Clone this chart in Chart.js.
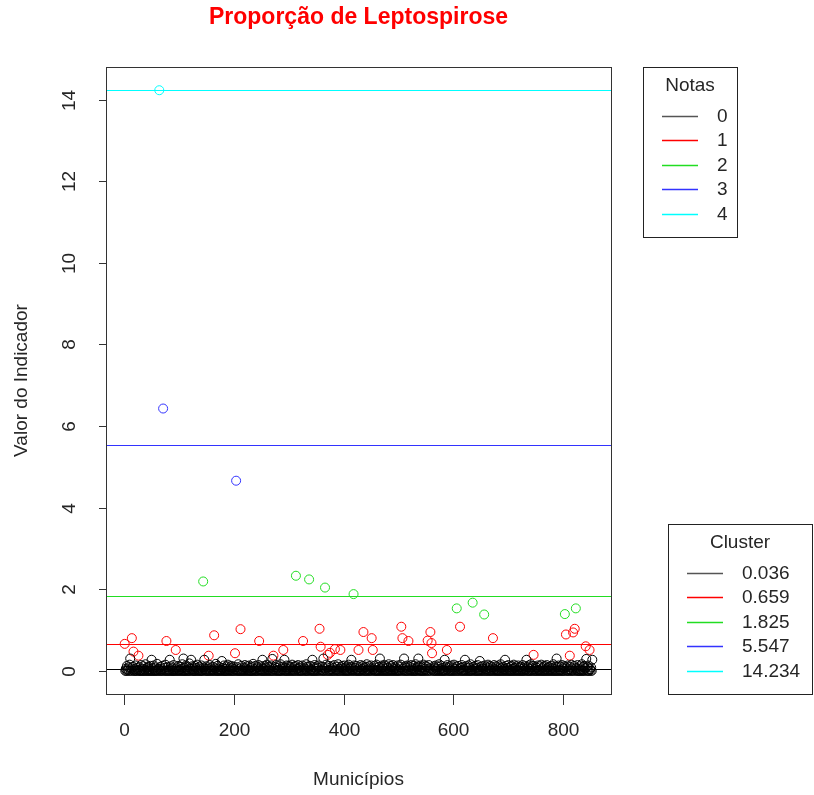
<!DOCTYPE html>
<html>
<head>
<meta charset="utf-8">
<script src="https://cdn.jsdelivr.net/npm/chart.js@4"></script>
<style>
  html, body { margin: 0; padding: 0; background: #fff; }
</style>
</head>
<body>
<canvas id="scatter" width="814" height="795"></canvas>
<script>
// valor do indicador por municipio (indice 1..853)
const indicador = [
  0.66, 0, 0.05, 0, 0.12, 0, 0.03, 0.08, 0, 0.15, 0.30, 0, 0.06, 0.80, 0, 0.1, 0.47, 0, 0.04, 0, 0.13, 0, 0.07, 0, 0.02,
  0.37, 0, 0.09, 0, 0, 0.14, 0, 0.05, 0, 0.11, 0, 0, 0.03, 0.16, 0, 0.07, 0, 0, 0.1, 0, 0.04, 0, 0.12, 0, 0.27,
  0, 0.06, 0, 0.13, 0, 0, 0.08, 0, 0.02, 0.17, 0, 0, 0.05, 14.234, 0, 0.1, 0, 0.04, 0, 0.12, 6.43, 0, 0.07, 0, 0.15,
  0, 0.73, 0, 0.09, 0, 0.03, 0, 0.27, 0, 0.11, 0, 0.06, 0, 0, 0.14, 0, 0.04, 0, 0.51, 0, 0.08, 0, 0.12, 0, 0.02,
  0, 0.1, 0, 0.05, 0, 0.16, 0, 0.30, 0, 0.07, 0, 0, 0.13, 0, 0.03, 0, 0.09, 0, 0.18, 0, 0.05, 0.27, 0, 0.11, 0,
  0.04, 0, 0, 0.12, 0, 0.07, 0, 0.15, 0, 0.02, 0, 0.1, 0, 0.06, 0, 0.13, 0, 0, 2.19, 0.08, 0.27, 0, 0.04, 0, 0.11,
  0, 0.05, 0, 0.37, 0, 0.14, 0, 0.08, 0, 0.03, 0, 0.1, 0, 0.87, 0, 0.06, 0.17, 0, 0, 0.12, 0, 0.04, 0, 0.09, 0,
  0.02, 0, 0.24, 0, 0.07, 0, 0.13, 0, 0, 0.05, 0, 0.11, 0, 0.15, 0, 0.03, 0, 0.08, 0, 0.12, 0, 0.06, 0, 0.1, 0,
  0.04, 0.43, 0, 4.66, 0, 0.09, 0, 0.16, 0, 0.05, 0, 1.02, 0, 0.12, 0, 0.03, 0, 0.08, 0, 0.14, 0, 0.06, 0, 0.11, 0,
  0.02, 0, 0.13, 0, 0.07, 0, 0, 0.1, 0, 0.17, 0, 0.04, 0, 0.12, 0, 0.06, 0, 0.09, 0, 0.14, 0.73, 0, 0.03, 0, 0.11,
  0, 0.27, 0, 0.05, 0, 0.12, 0, 0.08, 0, 0.15, 0, 0.03, 0, 0.1, 0, 0.06, 0, 0.13, 0, 0.29, 0, 0.37, 0.04, 0, 0.09,
  0, 0.14, 0, 0.07, 0, 0.02, 0, 0.11, 0, 0.16, 0, 0.05, 0, 0.1, 0.51, 0, 0.27, 0, 0.08, 0, 0.13, 0, 0.04, 0, 0.12,
  0, 0.06, 0, 0.1, 0, 0.15, 0, 0.03, 0, 0.09, 0, 0.12, 2.33, 0, 0.05, 0, 0.14, 0, 0.07, 0, 0.11, 0, 0.02, 0, 0.13,
  0.73, 0, 0.08, 0, 0.04, 0, 0.16, 0, 0.1, 0, 0.06, 2.24, 0, 0.12, 0, 0.03, 0, 0.27, 0, 0.09, 0, 0.14, 0, 0.05, 0,
  0.11, 0, 0.07, 0, 0.13, 1.03, 0, 0.59, 0.02, 0, 0.1, 0, 0.30, 0, 0.06, 2.04, 0, 0.15, 0, 0.08, 0.39, 0, 0.12, 0, 0.44,
  0, 0.04, 0, 0.11, 0, 0.07, 0, 0.14, 0.53, 0, 0.03, 0, 0.1, 0, 0.16, 0, 0.05, 0, 0.51, 0.09, 0, 0.12, 0, 0.06, 0,
  0.13, 0, 0.08, 0, 0.02, 0, 0.11, 0, 0.15, 0, 0.06, 0, 0.1, 0.27, 0, 0.04, 0, 1.88, 0.13, 0, 0.07, 0, 0.12, 0, 0.03,
  0, 0.51, 0, 0.09, 0, 0.14, 0, 0.05, 0, 0.12, 0.95, 0, 0.07, 0, 0.1, 0, 0.16, 0, 0.03, 0, 0.11, 0, 0.06, 0, 0.13,
  0.80, 0, 0.51, 0.04, 0, 0.12, 0, 0.08, 0, 0.15, 0, 0.02, 0, 0.1, 0, 0.30, 0, 0.06, 0, 0.13, 0, 0.09, 0, 0.14, 0,
  0.05, 0, 0.11, 0, 0.07, 0, 0.16, 0, 0.03, 0, 0.12, 0, 0.08, 0, 0.14, 0, 0.04, 0, 0.1, 0, 0.06, 0, 0.13, 0, 0.02,
  0, 0.09, 0, 0.15, 1.08, 0, 0.80, 0.05, 0, 0.30, 0, 0.11, 0, 0.07, 0, 0.13, 0, 0.73, 0.03, 0, 0.1, 0, 0.14, 0, 0.06,
  0, 0.12, 0, 0.04, 0, 0.16, 0, 0.08, 0, 0.11, 0.30, 0, 0.02, 0, 0.13, 0, 0.07, 0, 0.1, 0, 0.15, 0, 0.05, 0, 0.12,
  0, 0.09, 0.74, 0, 0.14, 0, 0.06, 0.95, 0, 0.68, 0.43, 0.03, 0, 0.11, 0, 0.08, 0, 0.13, 0, 0.05, 0, 0.1, 0, 0.16, 0,
  0.04, 0, 0.12, 0, 0.07, 0, 0.02, 0, 0.27, 0, 0.1, 0, 0.51, 0.14, 0, 0.06, 0, 0.11, 0, 0.03, 0, 0.13, 0, 0.08, 0,
  0.15, 0, 0.05, 0, 0.1, 1.53, 0, 0.12, 0, 0.04, 0, 1.08, 0.07, 0, 0.14, 0, 0.09, 0, 0.02, 0, 0.27, 0, 0.11, 0, 0.06,
  0, 0.13, 0, 0.08, 0, 0.16, 0, 0.03, 0, 1.67, 0.1, 0, 0.05, 0, 0.12, 0, 0.07, 0, 0.14, 0, 0.02, 0, 0.24, 0, 0.09,
  0, 0.11, 0, 0.06, 0, 1.38, 0.13, 0, 0.04, 0, 0.1, 0, 0.15, 0, 0.07, 0, 0.12, 0, 0.03, 0, 0.09, 0.80, 0, 0.14, 0,
  0.05, 0, 0.11, 0, 0.02, 0, 0.13, 0, 0.08, 0, 0.16, 0, 0.06, 0, 0.1, 0, 0.04, 0, 0.27, 0, 0.12, 0, 0.07, 0, 0.14,
  0, 0.03, 0, 0.09, 0, 0.12, 0, 0.05, 0, 0.15, 0, 0.07, 0, 0.11, 0, 0.02, 0, 0.13, 0, 0.08, 0, 0.1, 0, 0.04, 0,
  0.14, 0, 0.06, 0, 0.11, 0, 0.03, 0.27, 0, 0.09, 0, 0.13, 0, 0.05, 0, 0.16, 0, 0.08, 0, 0.12, 0.39, 0, 0.04, 0, 0.1,
  0, 0.07, 0, 0.13, 0, 0.02, 0, 0.11, 0, 0.15, 0, 0.06, 0, 0.09, 0, 0.12, 0, 0.04, 0, 0.14, 0, 0.08, 0, 0.1, 0,
  0.03, 0, 0.12, 0, 0.07, 0, 0.16, 0, 0.05, 0, 0.11, 0, 0.30, 0, 0.09, 0, 0.13, 0, 0.02, 0, 0.1, 0, 0.14, 0, 0.06,
  0, 0.11, 1.39, 0, 0.89, 0.08, 0, 0.13, 0, 0.04, 0, 0.37, 0.1, 0, 0.15, 0, 0.06, 0.94, 0, 0.12, 1.03, 0, 1.53, 0.07, 0,
  0.14, 0, 0.05, 0, 0.11, 0, 0.03, 0, 0.16, 0, 0.09, 0, 0.12, 0, 0.06, 0.60, 0.29, 0, 0.1, 0, 0.13, 0, 0.51, 0.04, 0,
  0.08, 0, 0.27
];

const centros = [0.036, 0.659, 1.825, 5.547, 14.234];
const centrosTexto = ['0.036', '0.659', '1.825', '5.547', '14.234'];
const notas = ['0', '1', '2', '3', '4'];
const cores = ['#000000', '#ff0000', '#22dd22', '#3333ff', '#00ffff'];
const xTicks = [0, 200, 400, 600, 800];
const yTicks = [0, 2, 4, 6, 8, 10, 12, 14];

const FONT = '"Liberation Sans", Arial, sans-serif';
const TXT = '#262626';

// cada municipio vai para o centro mais proximo
function clusterDe(v) {
  let best = 0;
  centros.forEach((c, k) => {
    if (Math.abs(v - c) < Math.abs(v - centros[best])) best = k;
  });
  return best;
}

const grupos = centros.map(() => []);
indicador.forEach((v, i) => {
  grupos[clusterDe(v)].push({ x: i + 1, y: v });
});

const n = indicador.length;
const ymax = Math.max(...indicador);

const rBase = {
  id: 'rBase',
  afterDatasetsDraw(chart) {
    const { ctx, chartArea: a, scales: { y } } = chart;
    ctx.save();
    ctx.lineWidth = 1;
    centros.forEach((c, k) => {
      const py = Math.round(y.getPixelForValue(c)) + 0.5;
      ctx.strokeStyle = cores[k];
      ctx.beginPath();
      ctx.moveTo(a.left, py);
      ctx.lineTo(a.right, py);
      ctx.stroke();
    });
    ctx.restore();
  },
  afterDraw(chart) {
    const { ctx, chartArea: a, scales: { x, y } } = chart;
    ctx.save();

    // caixa
    ctx.strokeStyle = '#333';
    ctx.lineWidth = 1;
    ctx.strokeRect(a.left + 0.5, a.top + 0.5, a.right - a.left, a.bottom - a.top);

    ctx.fillStyle = TXT;
    ctx.font = '19px ' + FONT;

    // eixo x
    ctx.textAlign = 'center';
    ctx.textBaseline = 'middle';
    xTicks.forEach(t => {
      const px = Math.round(x.getPixelForValue(t)) + 0.5;
      ctx.beginPath();
      ctx.moveTo(px, a.bottom + 1);
      ctx.lineTo(px, a.bottom + 11);
      ctx.stroke();
      ctx.fillText(String(t), px, a.bottom + 37);
    });

    // eixo y (rotulos girados como no R)
    yTicks.forEach(t => {
      const py = Math.round(y.getPixelForValue(t)) + 0.5;
      ctx.beginPath();
      ctx.moveTo(a.left - 7, py);
      ctx.lineTo(a.left, py);
      ctx.stroke();
      ctx.save();
      ctx.translate(a.left - 36, py);
      ctx.rotate(-Math.PI / 2);
      ctx.fillText(String(t), 0, 0);
      ctx.restore();
    });

    // titulos
    const cx = (a.left + a.right) / 2;
    ctx.fillText('Municípios', cx, 780);
    ctx.save();
    ctx.translate(22, (a.top + a.bottom) / 2);
    ctx.rotate(-Math.PI / 2);
    ctx.fillText('Valor do Indicador', 0, 0);
    ctx.restore();

    ctx.font = 'bold 23px ' + FONT;
    ctx.fillStyle = '#ff0000';
    ctx.fillText('Proporção de Leptospirose', cx, 18);

    // legendas
    legenda(ctx, 643, 67, 94, 170, 'Notas', notas, 662, 698, 717);
    legenda(ctx, 668, 524, 144, 170, 'Cluster', centrosTexto, 687, 723, 742);

    ctx.restore();
  }
};

function legenda(ctx, bx, by, bw, bh, titulo, textos, l0, l1, tx) {
  ctx.strokeStyle = '#222';
  ctx.lineWidth = 1;
  ctx.strokeRect(bx + 0.5, by + 0.5, bw, bh);
  ctx.font = '19px ' + FONT;
  ctx.fillStyle = TXT;
  ctx.textAlign = 'center';
  ctx.textBaseline = 'middle';
  ctx.fillText(titulo, bx + bw / 2, by + 19);
  ctx.textAlign = 'left';
  textos.forEach((t, k) => {
    const ly = Math.round(by + 49 + k * 24.4) + 0.5;
    ctx.strokeStyle = k === 0 ? '#555' : cores[k];
    ctx.lineWidth = 1.5;
    ctx.beginPath();
    ctx.moveTo(l0, ly);
    ctx.lineTo(l1, ly);
    ctx.stroke();
    ctx.fillText(t, tx, ly);
  });
}

new Chart(document.getElementById('scatter'), {
  type: 'scatter',
  data: {
    datasets: grupos.map((pts, k) => ({
      data: pts,
      borderColor: cores[k],
      backgroundColor: 'rgba(0,0,0,0)',
      pointRadius: 4.5,
      pointBorderWidth: 1,
      pointHoverRadius: 4.5
    }))
  },
  options: {
    responsive: false,
    animation: false,
    layout: {
      padding: { left: 106, top: 67, right: 203, bottom: 101 }
    },
    plugins: {
      legend: { display: false },
      tooltip: { enabled: false }
    },
    scales: {
      x: {
        type: 'linear',
        display: false,
        min: 1 - 0.04 * (n - 1),
        max: n + 0.04 * (n - 1)
      },
      y: {
        display: false,
        min: -0.04 * ymax,
        max: ymax * 1.04
      }
    }
  },
  plugins: [rBase]
});
</script>
</body>
</html>
